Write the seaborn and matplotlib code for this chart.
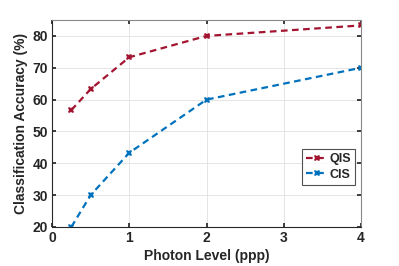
import matplotlib
matplotlib.use("Agg")
import matplotlib.pyplot as plt
import seaborn as sns
import pandas as pd

photon = [0.25, 0.5, 1, 2, 4]
qis = [56.7, 63.3, 73.3, 80.0, 83.3]
cis = [20.0, 30.0, 43.3, 60.0, 70.0]
xticks = [0, 1, 2, 3, 4]
yticks = [20, 30, 40, 50, 60, 70, 80]

sns.set_theme(style="whitegrid")
plt.rcParams['font.family'] = ['Liberation Sans', 'DejaVu Sans']
plt.rcParams['font.weight'] = 'bold'

df = pd.DataFrame({
    "ppp": photon * 2,
    "acc": qis + cis,
    "series": ["QIS"] * len(photon) + ["CIS"] * len(photon),
})

fig = plt.figure(figsize=(3.99, 2.66), dpi=100)
ax = fig.add_axes([52 / 399, 1 - 227 / 266, (361 - 52) / 399, (227 - 20) / 266])
sns.lineplot(data=df, x="ppp", y="acc", hue="series", style="series",
             palette={"QIS": "#A2142F", "CIS": "#0072BD"},
             dashes={"QIS": (3, 2), "CIS": (3, 2)},
             markers={"QIS": "X", "CIS": "X"}, markersize=5,
             linewidth=1.6, markeredgewidth=0, ax=ax)
ax.set_xlim(0, 4)
ax.set_ylim(20, 85)
ax.set_xticks(xticks)
ax.set_yticks(yticks)
ax.set_xlabel("Photon Level (ppp)", fontsize=10, fontweight='bold', color='#262626', labelpad=3)
ax.set_ylabel("Classification Accuracy (%)", fontsize=10, fontweight='bold', color='#262626', labelpad=3)
ax.tick_params(labelsize=10, colors='#262626', direction='in', length=3,
               top=True, right=True, bottom=True, left=True, pad=3)
ax.grid(True, color='#e0e0e0', linewidth=0.6)
ax.set_facecolor('white')
for s in ax.spines.values():
    s.set_visible(True)
    s.set_color('#262626')
    s.set_linewidth(0.8)
ax.spines['top'].set_color('#888888')
ax.spines['right'].set_color('#888888')
leg = ax.legend(loc='center right', bbox_to_anchor=(0.98, 0.29), fontsize=9,
                frameon=True, fancybox=False, handlelength=1.8, handletextpad=0.1,
                borderpad=0.3, labelspacing=0.3, borderaxespad=0)
leg.get_frame().set_edgecolor('#262626')
leg.get_frame().set_linewidth(0.8)
for t in leg.get_texts():
    t.set_fontweight('bold')
fig.savefig("out.png", dpi=100)
